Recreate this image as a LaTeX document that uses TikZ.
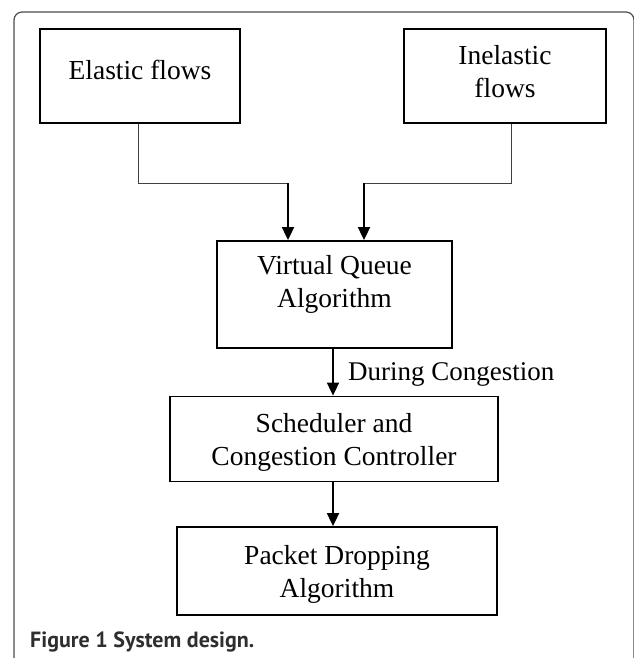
\documentclass[tikz,border=0pt]{standalone}
\usepackage{fontspec}
\setmainfont{Liberation Serif}
\newfontfamily\capfont{PT Sans}
\usetikzlibrary{arrows.meta}
\begin{document}
\begin{tikzpicture}[x=1pt,y=-1pt,
  boxnode/.style={draw, line width=1.8pt, inner sep=0pt},
  txt/.style={font=\fontsize{27.5}{33}\selectfont, inner sep=0pt, anchor=base, align=center},
  feed/.style={draw=black!75, line width=0.9pt},
  arr/.style={draw, line width=1.8pt, -{Triangle[length=13pt,width=12pt]}},
  frame/.style={draw=black!70, line width=1.2pt, rounded corners=8pt}]
\useasboundingbox (0,0) rectangle (633,658);
\path[frame] (14,670) -- (14,12) -- (634,12) -- (634,670);
% boxes
\node[boxnode, minimum width=200pt, minimum height=94pt] (eb) at (140,76) {};
\node[boxnode, minimum width=202pt, minimum height=94pt] (ib) at (505,76) {};
\node[boxnode, minimum width=235pt, minimum height=107pt] (vq) at (334.5,294.5) {};
\node[boxnode, minimum width=328pt, minimum height=85pt] (sc) at (334,439) {};
\node[boxnode, minimum width=320pt, minimum height=88pt] (pd) at (337,571) {};
% texts (anchor base = last line)
\node[txt] (ebt) at (140,80) {Elastic flows};
\node[txt] (ibt) at (505,98) {Inelastic\\flows};
\node[txt] (vqt) at (334.5,307) {Virtual Queue\\Algorithm};
\node[txt] (sct) at (334,465) {Scheduler and\\Congestion Controller};
\node[txt] (pdt) at (337,597) {Packet Dropping\\Algorithm};
% connectors
\coordinate (ej) at (288,183);
\coordinate (ij) at (364,183);
\draw[feed] ([xshift=-2pt]eb.south) |- (ej);
\draw[feed] ([xshift=6pt]ib.south) |- (ij);
\draw[arr] (ej) -- (ej |- vq.north);
\draw[arr] (ij) -- (ij |- vq.north);
\coordinate (a1) at (333,0);
\draw[arr] (a1 |- vq.south) -- (a1 |- sc.north);
\node[inner sep=0pt, anchor=base west, font=\fontsize{27}{33}\selectfont] (lbl) at (348,380) {During Congestion};
\draw[arr] (a1 |- sc.south) -- (a1 |- pd.north);
% caption
\node[inner sep=0pt, anchor=base west, font=\capfont\fontsize{22}{24}\selectfont\bfseries, text=black!82] (cap) at (30,647) {Figure 1 System design.};
\end{tikzpicture}
\end{document}
